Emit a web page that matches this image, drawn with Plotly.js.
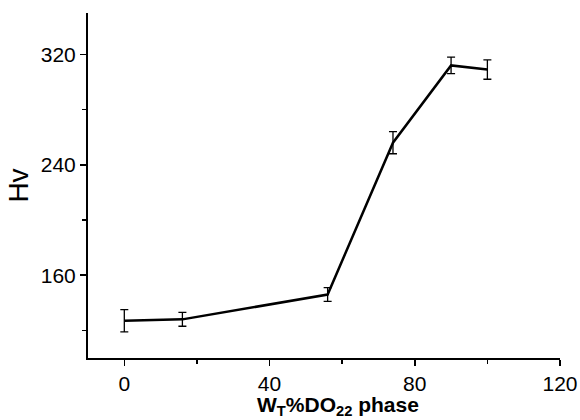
<!DOCTYPE html>
<html>
<head>
<meta charset="utf-8">
<script src="https://cdn.plot.ly/plotly-3.0.1.min.js"></script>
<style>html,body{margin:0;padding:0;background:#fff;}#chart{width:580px;height:420px;}</style>
</head>
<body>
<div id="chart"></div>
<script>
const xValues = [0, 16, 56, 74, 90, 100];
const hvValues = [127, 128, 146, 256, 312, 309];
const hvErrors = [8, 5, 5, 8, 6, 7];
const xTickVals = [0, 40, 80, 120];
const yTickVals = [160, 240, 320];
const xTitle = '<b>W<sub>T</sub>%DO<sub>22</sub> phase</b>';
const yTitle = 'Hv';

const trace = {
  x: xValues,
  y: hvValues,
  type: 'scatter',
  mode: 'lines',
  line: {color: '#000', width: 2.5},
  error_y: {type: 'data', array: hvErrors, visible: true, color: '#000', thickness: 1.3, width: 4},
  hoverinfo: 'skip'
};

const layout = {
  width: 580, height: 420,
  margin: {l: 88, r: 20, t: 13, b: 62},
  paper_bgcolor: '#fff', plot_bgcolor: '#fff',
  showlegend: false,
  font: {family: 'Liberation Sans, Arial, sans-serif', color: '#000', size: 20},
  xaxis: {
    range: [-10, 120],
    tickvals: xTickVals,
    ticks: 'outside', ticklen: 6, tickwidth: 1.5, tickcolor: '#000',
    showline: true, linecolor: '#000', linewidth: 2,
    showgrid: false, zeroline: false,
    tickfont: {size: 21},
    minor: {dtick: 20, tick0: 0, ticks: 'outside', ticklen: 4, tickwidth: 1.5, tickcolor: '#000', showgrid: false}
  },
  yaxis: {
    range: [100, 350],
    tickvals: yTickVals,
    ticks: 'outside', ticklen: 6, tickwidth: 1.5, tickcolor: '#000',
    showline: true, linecolor: '#000', linewidth: 2,
    showgrid: false, zeroline: false,
    tickfont: {size: 21},
    minor: {dtick: 40, tick0: 0, ticks: 'outside', ticklen: 4, tickwidth: 1.5, tickcolor: '#000', showgrid: false},
    title: {text: yTitle, font: {size: 28}, standoff: 4}
  },
  annotations: [{
    text: xTitle, xref: 'paper', yref: 'paper', x: 0.53, y: 0,
    xanchor: 'center', yanchor: 'middle', yshift: -48, showarrow: false,
    font: {size: 21, color: '#000'}
  }]
};

Plotly.newPlot('chart', [trace], layout, {displayModeBar: false, staticPlot: true});
</script>
</body>
</html>
